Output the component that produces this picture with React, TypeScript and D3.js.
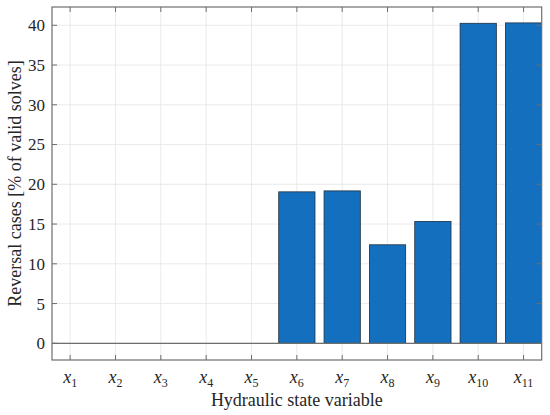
import React from "react";
import * as d3 from "d3";

const categories = ["1", "2", "3", "4", "5", "6", "7", "8", "9", "10", "11"];
const values = [0, 0, 0, 0, 0, 19.05, 19.17, 12.39, 15.33, 40.25, 40.3];
const yTicks = [0, 5, 10, 15, 20, 25, 30, 35, 40];
const yLabel = "Reversal cases [% of valid solves]";
const xLabel = "Hydraulic state variable";

const W = 550, H = 415;
const L = 52, R = 541.7, T = 7, B = 360;

export default function App() {
  const x = d3.scaleLinear().domain([0.6, 11.4]).range([L, R]);
  const y = d3.scaleLinear().domain([-2.1, 42.3]).range([B, T]);
  const bw = x(1.8) - x(1);
  const axisColor = "#6e6e6e";
  const gridColor = "#e4e4e4";
  const font = "Liberation Serif";
  const tickLen = 5;
  return (
    <svg width={W} height={H} style={{ position: "absolute", left: 0, top: 0, background: "#fff", fontFamily: font }}>
      <defs>
        <clipPath id="plotclip">
          <rect x={L} y={T} width={R - L} height={B - T} />
        </clipPath>
      </defs>
      <rect x={0} y={0} width={W} height={H} fill="#fff" />
      {categories.map((c, i) => (
        <line key={"gx" + c} x1={x(i + 1)} x2={x(i + 1)} y1={T} y2={B} stroke={gridColor} strokeWidth={0.8} />
      ))}
      {yTicks.map((t) => (
        <line key={"gy" + t} x1={L} x2={R} y1={y(t)} y2={y(t)} stroke={gridColor} strokeWidth={0.8} />
      ))}
      <g clipPath="url(#plotclip)">
        {values.map((v, i) => (
          <rect
            key={"b" + i}
            x={x(i + 1) - bw / 2}
            y={y(Math.max(v, 0))}
            width={bw}
            height={Math.abs(y(v) - y(0))}
            fill="#1470bf"
            stroke="#1f2f3f"
            strokeWidth={0.8}
          />
        ))}
        <line x1={L} x2={R} y1={y(0)} y2={y(0)} stroke={axisColor} strokeWidth={1.2} />
      </g>
      {categories.map((c, i) => (
        <g key={"tx" + c}>
          <line x1={x(i + 1)} x2={x(i + 1)} y1={B} y2={B - tickLen} stroke={axisColor} strokeWidth={1} />
          <line x1={x(i + 1)} x2={x(i + 1)} y1={T} y2={T + tickLen} stroke={axisColor} strokeWidth={1} />
          <text x={x(i + 1)} y={383} textAnchor="middle" style={{ fontFamily: font }} fontSize={18} fill="#262626">
            <tspan fontStyle="italic">x</tspan>
            <tspan fontSize={12} dy={4}>{c}</tspan>
          </text>
        </g>
      ))}
      {yTicks.map((t) => (
        <g key={"ty" + t}>
          <line x1={L} x2={L + tickLen} y1={y(t)} y2={y(t)} stroke={axisColor} strokeWidth={1} />
          <line x1={R} x2={R - tickLen} y1={y(t)} y2={y(t)} stroke={axisColor} strokeWidth={1} />
          <text x={L - 7} y={y(t)} dy="0.35em" textAnchor="end" style={{ fontFamily: font }} fontSize={17} fill="#262626">
            {t}
          </text>
        </g>
      ))}
      <rect x={L} y={T} width={R - L} height={B - T} fill="none" stroke={axisColor} strokeWidth={1.2} />
      <text x={(L + R) / 2} y={406} textAnchor="middle" style={{ fontFamily: font }} fontSize={18} fill="#262626">
        {xLabel}
      </text>
      <text
        transform={`translate(21, ${(T + B) / 2}) rotate(-90)`}
        textAnchor="middle"
        style={{ fontFamily: font }}
        fontSize={18}
        fill="#262626"
      >
        {yLabel}
      </text>
    </svg>
  );
}
